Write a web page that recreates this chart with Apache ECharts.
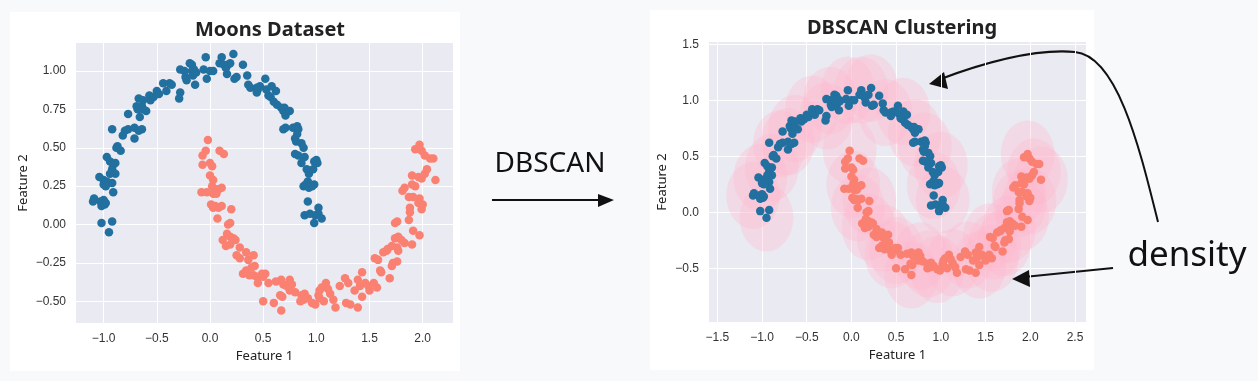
<!DOCTYPE html>
<html>
<head>
<meta charset="utf-8">
<script src="https://cdn.jsdelivr.net/npm/echarts@6/dist/echarts.min.js"></script>
<style>
html,body{margin:0;padding:0;background:#f8f9fb;}
#c{width:1258px;height:381px;}
</style>
</head>
<body>
<div id="c"></div>
<script>
// ---- data (feature 1, feature 2) ----
const blueMoon = [
[-1.10,0.15],[-1.09,0.17],[-1.03,0.15],[-1.00,0.16],[-0.99,0.13],[-1.02,0.12],[-0.98,0.14],
[-1.02,0.01],[-0.92,0.02],[-0.95,-0.05],
[-1.04,0.31],[-1.00,0.29],[-0.98,0.27],[-1.00,0.26],[-0.97,0.28],[-0.92,0.27],[-0.91,0.21],[-0.98,0.25],
[-0.97,0.44],[-0.94,0.41],[-0.91,0.39],[-0.89,0.40],[-0.92,0.36],[-0.89,0.33],[-0.94,0.33],
[-0.88,0.50],[-0.84,0.48],[-0.87,0.51],
[-0.92,0.62],[-0.82,0.58],[-0.80,0.61],[-0.77,0.62],[-0.71,0.63],[-0.71,0.56],[-0.64,0.62],[-0.67,0.61],
[-0.77,0.72],[-0.68,0.75],[-0.66,0.70],[-0.63,0.75],[-0.69,0.77],[-0.64,0.77],[-0.60,0.74],
[-0.67,0.82],[-0.63,0.81],
[-0.57,0.84],[-0.56,0.81],[-0.53,0.83],[-0.50,0.87],[-0.48,0.85],
[-0.44,0.92],[-0.41,0.87],[-0.38,0.92],[-0.36,0.91],
[-0.28,0.86],[-0.29,0.82],
[-0.28,1.01],[-0.24,1.00],[-0.23,0.96],[-0.22,0.94],[-0.17,1.00],[-0.16,0.97],[-0.14,0.91],[-0.19,1.05],[-0.17,1.04],[-0.15,1.01],[-0.13,0.99],
[-0.06,1.01],[-0.04,1.09],[-0.03,0.95],[0.00,1.00],[0.03,1.00],
[0.09,1.05],[0.11,1.09],[0.13,1.04],[0.15,1.02],[0.17,1.04],[0.16,0.98],[0.19,1.05],[0.22,1.11],[0.23,0.95],[0.25,0.96],[0.31,1.04],
[0.35,0.97],[0.36,0.91],[0.38,0.89],[0.44,0.89],[0.45,0.88],[0.47,0.90],[0.44,0.86],[0.52,0.95],[0.53,0.88],[0.55,0.84],[0.57,0.83],[0.58,0.90],[0.62,0.87],[0.60,0.80],[0.63,0.78],[0.67,0.76],[0.69,0.74],[0.71,0.71],[0.70,0.76],[0.75,0.74],[0.71,0.63],[0.69,0.62],
[0.78,0.63],[0.82,0.64],[0.83,0.62],[0.80,0.56],[0.81,0.54],[0.82,0.59],
[0.86,0.53],[0.88,0.50],[0.80,0.46],[0.83,0.45],[0.89,0.44],[0.86,0.40],[0.91,0.36],[0.93,0.33],[0.97,0.36],[1.00,0.42],[1.01,0.40],[0.98,0.41],
[0.88,0.25],[0.90,0.26],[0.92,0.28],[0.96,0.25],[0.98,0.26],[0.93,0.24],
[0.92,0.15],[0.89,0.06],[0.94,0.07],[0.99,0.06],[0.98,0.01],[1.02,0.11],[1.05,0.04],[1.02,0.07]
];
const salmonMoon = [
[-0.02,0.55],[-0.07,0.45],[-0.04,0.48],[0.09,0.48],[0.13,0.46],[-0.07,0.39],[0.00,0.40],[0.02,0.38],[0.00,0.32],[0.03,0.29],[0.02,0.25],[0.05,0.23],
[-0.08,0.21],[-0.03,0.21],[0.03,0.20],[0.08,0.23],[0.11,0.24],[0.06,0.20],
[0.01,0.13],[0.05,0.12],[0.08,0.11],[0.11,0.12],[0.03,0.11],[0.07,0.04],[0.20,0.10],[0.19,0.01],[0.17,0.00],
[0.12,-0.10],[0.16,-0.06],[0.19,-0.08],[0.22,-0.09],[0.15,-0.14],[0.19,-0.13],[0.24,-0.10],
[0.28,-0.15],[0.25,-0.20],[0.28,-0.22],[0.34,-0.18],[0.41,-0.20],[0.36,-0.23],
[0.31,-0.32],[0.34,-0.30],[0.37,-0.33],[0.39,-0.28],[0.42,-0.27],[0.41,-0.33],[0.44,-0.34],[0.45,-0.38],[0.49,-0.32],[0.52,-0.32],[0.50,-0.34],
[0.55,-0.38],[0.62,-0.37],[0.67,-0.36],[0.69,-0.39],[0.72,-0.40],[0.75,-0.36],[0.77,-0.39],[0.75,-0.43],[0.80,-0.44],[0.68,-0.47],[0.66,-0.46],
[0.50,-0.50],[0.60,-0.51],[0.67,-0.56],
[0.86,-0.46],[0.89,-0.45],[0.92,-0.48],[0.96,-0.51],[0.99,-0.52],[0.85,-0.50],[0.88,-0.49],
[1.02,-0.46],[1.03,-0.43],[1.05,-0.41],[1.09,-0.38],[1.11,-0.42],[1.13,-0.45],[1.16,-0.49],[1.18,-0.54],[1.03,-0.48],[1.07,-0.50],
[1.22,-0.40],[1.27,-0.35],[1.30,-0.38],[1.32,-0.52],[1.28,-0.51],[1.36,-0.43],[1.39,-0.36],[1.41,-0.40],[1.43,-0.47],[1.39,-0.54],[1.43,-0.31],
[1.46,-0.38],[1.49,-0.40],[1.50,-0.43],[1.54,-0.38],[1.57,-0.41],[1.55,-0.22],[1.58,-0.23],[1.60,-0.30],[1.61,-0.31],[1.69,-0.35],[1.71,-0.27],[1.72,-0.25],[1.76,-0.24],
[1.63,-0.18],[1.66,-0.17],[1.67,-0.16],[1.71,-0.14],[1.76,-0.15],[1.74,-0.09],[1.77,-0.08],[1.80,-0.10],[1.77,-0.17],[1.83,-0.12],[1.90,-0.13],[1.97,-0.07],[1.91,-0.04],
[1.74,0.01],[1.76,0.02],[1.87,0.03],[1.88,0.08],[1.88,0.11],[1.91,0.18],[1.87,0.18],[2.00,0.13],[1.99,0.10],[1.96,0.14],[1.97,0.17],
[1.83,0.24],[1.81,0.22],[1.90,0.26],[1.93,0.25],[1.90,0.32],[1.96,0.31],[1.99,0.30],[2.02,0.33],[2.04,0.36],[2.12,0.29],
[1.93,0.49],[1.97,0.52],[1.99,0.48],[2.02,0.45],[2.07,0.43],[2.10,0.43]
];
// points whose eps-neighbourhood is shaded in the DBSCAN panel
const densityCenters = [
[-1.10,0.15],[-0.95,-0.05],[-1.02,0.31],[-0.89,0.40],[-0.80,0.61],[-0.63,0.75],[-0.44,0.92],[-0.28,0.86],
[-0.24,1.00],[-0.04,1.09],[0.22,1.11],[0.38,0.89],[0.58,0.90],[0.71,0.71],[0.82,0.59],[1.00,0.42],[0.92,0.24],[1.02,0.11],
[-0.71,0.63],[0.11,1.09],
[-0.02,0.55],[0.02,0.25],[0.07,0.04],[0.19,-0.13],[0.36,-0.23],[0.50,-0.34],[0.67,-0.56],[0.77,-0.39],[0.96,-0.51],
[1.13,-0.45],[1.30,-0.38],[1.43,-0.47],[1.57,-0.41],[1.60,-0.30],[1.76,-0.15],[1.88,0.08],[1.99,0.10],[2.04,0.36],
[1.97,0.52],[2.12,0.29],[1.91,-0.04],
[0.45,-0.38],[0.86,-0.46],[1.71,-0.27],[1.87,0.18],[1.55,-0.22],[0.20,0.10]
];
const eps = 0.3;
const leftXTicks = [-1.0,-0.5,0.0,0.5,1.0,1.5,2.0];
const leftYTicks = [-0.5,-0.25,0.0,0.25,0.5,0.75,1.0];
const rightXTicks = [-1.5,-1.0,-0.5,0.0,0.5,1.0,1.5,2.0,2.5];
const rightYTicks = [-0.5,0.0,0.5,1.0,1.5];

const BLUE = '#22709f', SALMON = '#fa8072';
const tickFont = {color:'#333', fontSize:12, fontFamily:'Liberation Sans'};
const nameFont = {color:'#222', fontSize:13, fontFamily:'Noto Sans'};
function fmt(d){ return v => (v<0?'\u2212':'') + Math.abs(v).toFixed(d); }
function xAxis(grid, min, max, ticks, d){
  return {type:'value', gridIndex:grid, min, max, name:'Feature 1', nameLocation:'middle', nameGap:24, nameTextStyle:nameFont,
    axisLine:{show:false}, axisTick:{show:false, customValues:ticks},
    axisLabel:Object.assign({customValues:ticks, formatter:fmt(d), margin:10}, tickFont),
    splitLine:{show:true, lineStyle:{color:'#ffffff', width:1}}};
}
function yAxis(grid, min, max, ticks, d, gap){
  return {type:'value', gridIndex:grid, min, max, name:'Feature 2', nameLocation:'middle', nameGap:gap, nameRotate:90, nameTextStyle:nameFont,
    axisLine:{show:false}, axisTick:{show:false, customValues:ticks},
    axisLabel:Object.assign({customValues:ticks, formatter:fmt(d), margin:10}, tickFont),
    splitLine:{show:true, lineStyle:{color:'#ffffff', width:1}}};
}
function dots(name, data, color, i){
  return {type:'scatter', name, data, xAxisIndex:i, yAxisIndex:i, symbolSize:8.5, itemStyle:{color, opacity:1}, z:3, silent:true};
}

const chart = echarts.init(document.getElementById('c'), null, {renderer:'canvas'});
chart.setOption({
  backgroundColor:'#f8f9fb',
  animation:false,
  title:[
    {text:'Moons Dataset', left:265, top:15, textAlign:'center', textStyle:{fontSize:20, fontWeight:'bold', color:'#222', fontFamily:'Noto Sans'}},
    {text:'DBSCAN Clustering', left:897, top:13, textAlign:'center', textStyle:{fontSize:20, fontWeight:'bold', color:'#222', fontFamily:'Noto Sans'}}
  ],
  grid:[
    {left:76, top:43, width:377, height:280, show:true, backgroundColor:'#eaeaf2', borderWidth:0},
    {left:709, top:42, width:377, height:280, show:true, backgroundColor:'#eaeaf2', borderWidth:0}
  ],
  xAxis:[ xAxis(0,-1.26,2.285,leftXTicks,1), xAxis(1,-1.593,2.623,rightXTicks,1) ],
  yAxis:[ yAxis(0,-0.641,1.182,leftYTicks,2,46), yAxis(1,-0.98,1.52,rightYTicks,1,40) ],
  series:[
    dots('moon 0', blueMoon, BLUE, 0),
    dots('moon 1', salmonMoon, SALMON, 0),
    {type:'custom', name:'density', xAxisIndex:1, yAxisIndex:1, data:densityCenters, z:2, silent:true,
      renderItem:function(params, api){
        const c = api.coord([api.value(0), api.value(1)]);
        const s = api.size([eps, eps]);
        return {type:'circle', x:c[0], y:c[1], scaleX:s[0]/s[1], scaleY:1,
          shape:{cx:0, cy:0, r:s[1]}, style:{fill:'rgba(255,184,206,0.32)', stroke:null}};
      }},
    dots('cluster 0', blueMoon, BLUE, 1),
    dots('cluster 1', salmonMoon, SALMON, 1)
  ],
  graphic:[
    {type:'rect', z:-10, shape:{x:10, y:12, width:450, height:359}, style:{fill:'#ffffff'}},
    {type:'rect', z:-10, shape:{x:650, y:10, width:444, height:360}, style:{fill:'#ffffff'}},
    {type:'text', x:550, y:164, style:{text:'DBSCAN', font:'28px "Noto Sans"', fill:'#111', align:'center', verticalAlign:'middle'}},
    {type:'line', shape:{x1:492, y1:200, x2:602, y2:200}, style:{stroke:'#111', lineWidth:2}},
    {type:'polygon', shape:{points:[[598,194],[614,200],[598,207]]}, style:{fill:'#111'}},
    {type:'bezierCurve', shape:{x1:1158, y1:222, cpx1:1140, cpy1:150, cpx2:1118, cpy2:56, x2:1075, y2:52}, style:{stroke:'#111', lineWidth:2, fill:null}},
    {type:'bezierCurve', shape:{x1:1075, y1:52, cpx1:1030, cpy1:48, cpx2:975, cpy2:66, x2:938, y2:80}, style:{stroke:'#111', lineWidth:2.2, fill:null}},
    {type:'polygon', shape:{points:[[929,84],[944,72],[948,89]]}, style:{fill:'#111'}},
    {type:'line', shape:{x1:1113, y1:268, x2:1024, y2:277}, style:{stroke:'#111', lineWidth:2.2}},
    {type:'polygon', shape:{points:[[1012,279],[1029,270],[1030,287]]}, style:{fill:'#111'}},
    {type:'text', x:1187, y:256, style:{text:'density', font:'35px "Noto Sans"', fill:'#111', align:'center', verticalAlign:'middle'}}
  ]
});
</script>
</body>
</html>
